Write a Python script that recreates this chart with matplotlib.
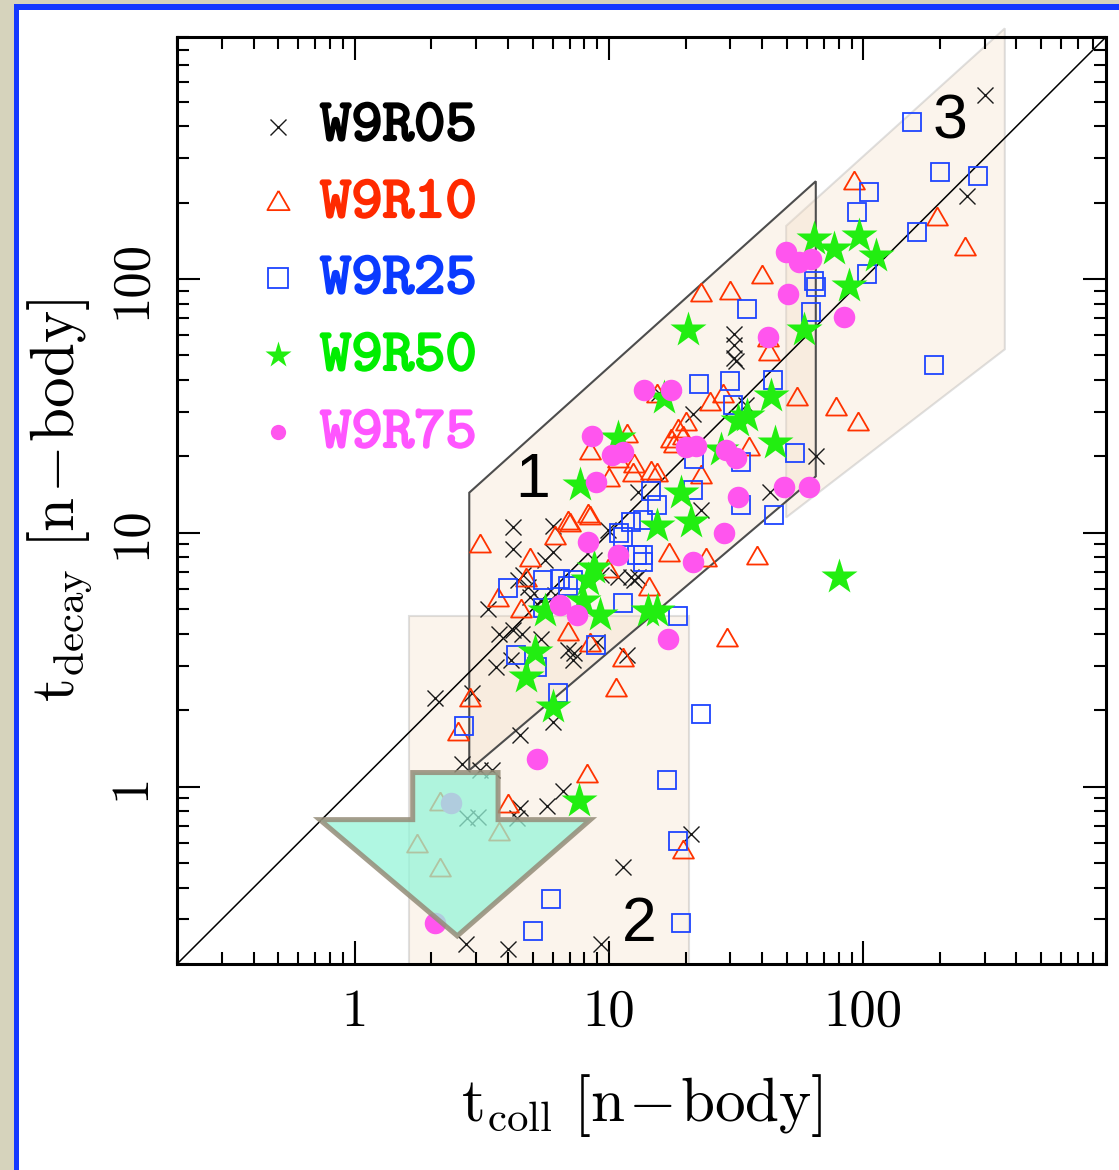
import numpy as np
import matplotlib.pyplot as plt
from matplotlib.patches import Polygon, Rectangle
from matplotlib.ticker import NullFormatter
import matplotlib.patheffects as pe

plt.rcParams['font.family'] = 'cmr10'
plt.rcParams['mathtext.fontset'] = 'cm'
plt.rcParams['axes.formatter.use_mathtext'] = True

# ---- data: t_coll, t_decay for each run ----
x05 = [300, 255, 65, 43, 31, 31, 31, 31.5, 15.7, 21.3, 34.5, 23, 13, 12.2, 13, 21,
       11.3, 9.3, 4.0, 2.75, 2.07, 2.64, 3.1, 3.47, 2.77, 3.06, 4.47, 4.35, 5.7, 6.6, 4.47, 6.0,
       4.2, 4.2, 6.0, 6.0, 5.6, 4.6, 4.8, 4.4, 4.9, 3.35, 3.7, 4.2, 4.55, 3.6, 4.1, 5.4,
       7.2, 7.25, 6.9, 12.5, 10.8, 11.8, 2.9, 9.0, 8.7, 9.9, 5.4, 6.15, 7.7, 9.3]
y05 = [530, 213, 20, 14.5, 60.6, 55, 49, 47.4, 35.5, 29.3, 32, 12.3, 14.5, 6.7, 6.7, 0.65,
       0.48, 0.24, 0.23, 0.24, 2.23, 1.23, 1.16, 1.16, 0.75, 0.76, 0.82, 0.75, 0.84, 0.96, 1.59, 1.79,
       10.5, 8.6, 10.6, 8.4, 7.8, 6.8, 6.1, 6.5, 5.6, 5.0, 4.0, 4.15, 4.0, 2.95, 3.15, 3.8,
       3.15, 3.35, 3.45, 6.5, 6.7, 3.3, 2.33, 3.7, 7.8, 10.3, 5.4, 5.7, 5.2, 6.8]

x10 = [92, 250, 194, 40, 30, 23, 42.6, 42, 55, 78, 95, 38, 29, 24, 17.2, 14.3,
       12.5, 14.6, 15.5, 23, 35.5, 18, 19.5, 20, 18.6, 17.5, 25, 28, 15.5, 11.8,
       8.45, 10, 8.3, 12.4, 6.9, 10.8, 3.1, 4.9, 3.67, 4.5, 6.15, 7.05, 8.45, 4.7,
       6.9, 8.45, 11.3, 10.6, 2.84, 9.9, 2.55, 8.2, 4.0, 3.7, 2.16, 1.76, 2.16, 19.5]
y10 = [245, 135, 177, 105, 91, 89, 52, 59, 34.5, 31.5, 27.7, 8.2, 3.9, 8.0, 8.4, 6.2,
       18.9, 17.7, 17.3, 17, 21.9, 22.7, 24.4, 27.5, 26, 23.7, 33, 35.7, 35.7, 24.8,
       21.3, 16.6, 12, 17.3, 11.2, 19.8, 9.1, 8.0, 5.6, 5.05, 9.8, 11, 11.8, 6.7,
       4.1, 3.7, 3.24, 2.46, 2.25, 7.3, 1.66, 1.13, 0.86, 0.67, 0.88, 0.6, 0.48, 0.57]

x25 = [155, 201, 282, 105, 94, 163, 103, 64, 65, 62, 190, 44, 35, 22.5, 30, 30.7,
       54, 33, 33, 44.6, 21.5, 21.3, 14.6, 15.5, 13.6, 11.3, 13.6, 13.6, 11.3, 18.6,
       2.7, 4.3, 5.2, 6.3, 8.85, 23, 16.9, 18.6, 5.9, 5.0, 19.1, 4.0, 5.5, 6.4,
       7.2, 6.9, 5.5, 10.9, 12.2, 12.9]
y25 = [417, 265, 255, 221, 184, 153, 105, 98, 93, 74, 46, 40, 76, 38.5, 39.5, 32,
       20.7, 19, 12.9, 11.8, 19.5, 14.8, 14.6, 12.9, 11.2, 9.6, 8.2, 7.7, 5.3, 4.7,
       1.74, 3.3, 2.95, 2.33, 3.6, 1.94, 1.06, 0.61, 0.36, 0.27, 0.29, 6.07, 6.5, 6.6,
       6.5, 6.2, 5.05, 10, 11, 8.2]

x50 = [64, 77, 96, 112, 88, 58.5, 20.5, 16.4, 10.8, 7.7, 43.4, 35, 32, 45, 27.5,
       19.1, 15.5, 21, 14.2, 15.5, 80, 8.7, 8.3, 7.9, 9.25, 5.6, 5.1, 4.7, 6.0, 7.6]
y50 = [144, 131, 148, 123, 94, 63, 63, 34, 23.7, 15.5, 34.5, 29, 27.5, 22.5, 21.3,
       14.4, 10.6, 11, 4.9, 4.9, 6.7, 7.3, 6.5, 5.4, 4.75, 4.9, 3.4, 2.7, 2.05, 0.88]

x75 = [49.7, 56, 62, 50.6, 84, 42, 13.7, 17.5, 8.6, 10.3, 11.3, 8.85, 20, 21.9, 28.8,
       31.6, 32, 48.8, 61, 28.3, 21.3, 17, 8.3, 10.8, 6.4, 7.5, 5.2, 2.4, 2.07]
y75 = [128, 117, 120, 87, 71, 59, 36.7, 36.7, 24, 20.3, 20.9, 15.8, 21.7, 22, 21.3,
       19.8, 13.9, 15.2, 15.2, 10, 7.7, 3.8, 9.2, 8.2, 5.2, 4.75, 1.29, 0.86, 0.29]

labels = ['W9R05', 'W9R10', 'W9R25', 'W9R50', 'W9R75']
text_colors = ['#000000', '#ff2a00', '#0a3aff', '#00ee00', '#ff55ff']

# ---- figure with framed page background ----
fig = plt.figure(figsize=(11.19, 11.70), dpi=100)
fig.patch.set_facecolor('#d6d3bc')
fig.patches.append(Rectangle((14 / 1119, 0), 1, 1 - 4 / 1170, transform=fig.transFigure,
                             facecolor='#1438ff', edgecolor='none', zorder=-10))
fig.patches.append(Rectangle((19 / 1119, 0), 1, 1 - 10 / 1170, transform=fig.transFigure,
                             facecolor='white', edgecolor='none', zorder=-9))

ax = fig.add_axes([0.1582, 0.1761, 0.8302, 0.7923])
ax.set_xscale('log')
ax.set_yscale('log')
lo, hi = 0.2, 900
ax.set_xlim(lo, hi)
ax.set_ylim(lo, hi)

# shaded regions 1, 2, 3
reg_face = '#f3dcc2'
r2 = Polygon([(1.63, 0.1), (1.63, 4.7), (20.6, 4.7), (20.6, 0.1)], closed=True,
             facecolor=reg_face, alpha=0.3, edgecolor='#999999', lw=1.5, zorder=1)
r3 = Polygon([(49.7, 11.5), (49.7, 162), (360, 973), (360, 52.9)], closed=True,
             facecolor=reg_face, alpha=0.3, edgecolor='#999999', lw=1.5, zorder=1,
             clip_on=False)
r1 = Polygon([(2.82, 1.16), (2.82, 14.4), (65, 243), (65, 16.7)], closed=True,
             facecolor=reg_face, alpha=0.3, edgecolor='none', zorder=1)
r1e = Polygon([(2.82, 1.16), (2.82, 14.4), (65, 243), (65, 16.7)], closed=True,
              facecolor='none', edgecolor='#4d4d4d', lw=1.5, zorder=2)
for p in (r2, r3, r1, r1e):
    ax.add_patch(p)

ax.plot([lo, hi], [lo, hi], color='black', lw=1.1, zorder=2)

tri = [(0, 0.433), (-0.5, -0.433), (0.5, -0.433), (0, 0.433)]
ax.plot(x05, y05, ls='none', marker='x', ms=12, mew=1.0, color='#1a1a1a', zorder=3)
ax.plot(x10, y10, ls='none', marker=tri, ms=15, mfc='none', mec='#ff3300', mew=1.3, zorder=4)
ax.plot(x25, y25, ls='none', marker='s', ms=13.5, mfc='none', mec='#1e44ff', mew=1.3, zorder=5)
ax.plot(x50, y50, ls='none', marker='*', ms=27, color='#22ee11', mec='none', zorder=6)
ax.plot(x75, y75, ls='none', marker='o', ms=15.5, color='#ff55ee', mec='none', zorder=7)

# big arrow pointing down
arrow = Polygon([(1.69, 1.136), (3.66, 1.136), (3.66, 0.741), (8.45, 0.741),
                 (2.53, 0.258), (0.728, 0.741), (1.69, 0.741)], closed=True,
                facecolor=(0.59, 0.96, 0.85, 0.75), edgecolor=(0.58, 0.55, 0.47, 0.85),
                lw=3.6, joinstyle='miter', zorder=8)
ax.add_patch(arrow)

for s, xx, yy in [('1', 4.99, 13.9), ('2', 13.1, 0.246), ('3', 220, 357)]:
    ax.text(xx, yy, s, fontsize=45, family='Liberation Sans', ha='center', va='baseline', zorder=9)

# legend drawn by hand
mk_y = [0.9029, 0.8242, 0.7400, 0.6570, 0.5739]
base_y = [0.8889, 0.8058, 0.7238, 0.6408, 0.5577]
mk_x, tx_x = 0.1087, 0.1539
ax.plot(mk_x, mk_y[0], marker='x', ms=12, mew=1.0, color='#1a1a1a', transform=ax.transAxes)
ax.plot(mk_x, mk_y[1], marker=tri, ms=16, mfc='none', mec='#ff3300', mew=1.3, transform=ax.transAxes)
ax.plot(mk_x, mk_y[2], marker='s', ms=14, mfc='none', mec='#1e44ff', mew=1.3, transform=ax.transAxes)
ax.plot(mk_x, mk_y[3], marker='*', ms=20, color='#22ee11', mec='none', transform=ax.transAxes)
ax.plot(mk_x, mk_y[4], marker='o', ms=11, color='#ff55ee', mec='none', transform=ax.transAxes)
for lab, c, yb in zip(labels, text_colors, base_y):
    ax.text(tx_x, yb, lab, transform=ax.transAxes, family='cmtt10', fontsize=43, color=c,
            va='baseline', ha='left',
            path_effects=[pe.withStroke(linewidth=1.6, foreground=c)])

# axes, ticks
for sp in ax.spines.values():
    sp.set_linewidth(2.2)
ax.set_xticks([1, 10, 100], labels=['1', '10', '100'])
ax.set_yticks([1, 10, 100], labels=['1', '10', '100'])
ax.xaxis.set_minor_formatter(NullFormatter())
ax.yaxis.set_minor_formatter(NullFormatter())
ax.tick_params(which='both', direction='in', top=True, right=True, width=1.5)
ax.tick_params(which='major', length=16.5, labelsize=38)
ax.tick_params(which='minor', length=8.6)
ax.tick_params(axis='x', which='major', pad=18)
ax.tick_params(axis='y', which='major', pad=16, labelrotation=90)
for lab in ax.get_yticklabels():
    lab.set_va('center')

ax.set_xlabel(r'$\mathrm{t_{coll}\ [n\hspace{0.08}{-}\hspace{0.08}body]}$', fontsize=44, labelpad=26)
ax.set_ylabel(r'$\mathrm{t_{decay}\ [n\hspace{0.08}{-}\hspace{0.08}body]}$', fontsize=44, labelpad=10)

fig.savefig('out.png', dpi=100, facecolor=fig.get_facecolor())
